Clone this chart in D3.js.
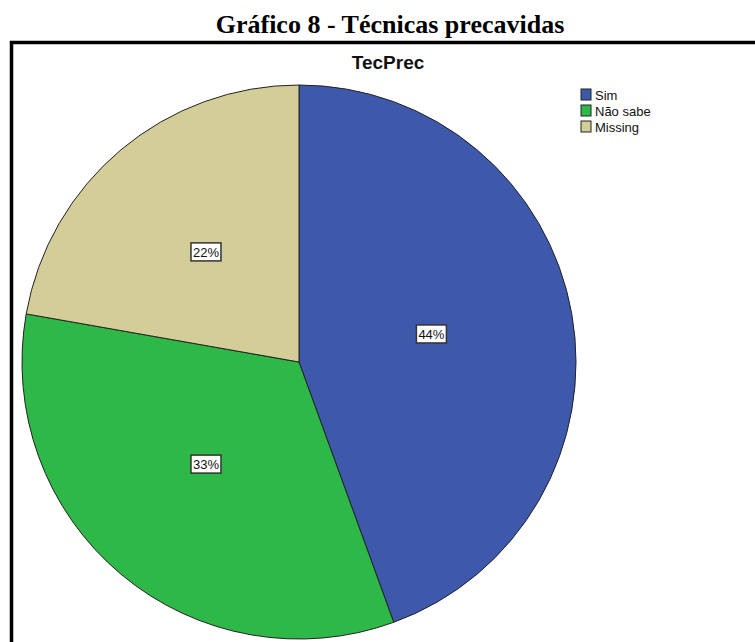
<!DOCTYPE html>
<html>
<head>
<meta charset="utf-8">
<script src="https://cdn.jsdelivr.net/npm/d3@7"></script>
<style>
  body { margin: 0; background: #fff; }
  svg { display: block; }
</style>
</head>
<body>
<svg id="chart" width="755" height="642"></svg>
<script>
(function(){

  var categories = ['Sim', 'Não sabe', 'Missing'];
  var counts = [4, 3, 2];
  var pctLabels = ['44%', '33%', '22%'];
  var colors = ['#3E58AC', '#2EB848', '#D3CE97'];

  var CX = 299, CY = 362, R = 277;

  var svg = d3.select('#chart');

  // titulo do documento
  svg.append('text')
    .attr('x', 390)
    .attr('y', 33)
    .attr('text-anchor', 'middle')
    .style('font-family', '"Liberation Serif", "Times New Roman", serif')
    .style('font-weight', 'bold')
    .style('font-size', '26px')
    .text('Gráfico 8 - Técnicas precavidas');

  // moldura (so topo e esquerda visiveis)
  svg.append('path')
    .attr('d', 'M11.5,642 L11.5,42.5 L755,42.5')
    .attr('fill', 'none')
    .attr('stroke', '#000')
    .attr('stroke-width', 3.5);

  svg.append('text')
    .attr('x', 388)
    .attr('y', 69)
    .attr('text-anchor', 'middle')
    .style('font-family', '"Liberation Sans", Arial, sans-serif')
    .style('font-weight', 'bold')
    .style('font-size', '19px')
    .attr('fill', '#111')
    .text('TecPrec');

  var pie = d3.pie().sort(null).value(function (d) { return d; });
  var arcs = pie(counts);
  var arc = d3.arc().innerRadius(0).outerRadius(R);

  var g = svg.append('g').attr('transform', 'translate(' + CX + ',' + CY + ')');

  g.selectAll('path')
    .data(arcs)
    .join('path')
    .attr('d', arc)
    .attr('fill', function (d, i) { return colors[i]; })
    .attr('stroke', '#222')
    .attr('stroke-width', 1);

  var labels = g.selectAll('g.lbl')
    .data(arcs)
    .join('g')
    .classed('lbl', true)
    .attr('transform', function (d) {
      var c = arc.centroid(d);
      return 'translate(' + (c[0] - 4) + ',' + (c[1] - 4) + ')';
    });

  labels.append('rect')
    .attr('x', -15)
    .attr('y', -9)
    .attr('width', 30)
    .attr('height', 18)
    .attr('fill', '#fff')
    .attr('stroke', '#333')
    .attr('stroke-width', 1.5);

  labels.append('text')
    .attr('text-anchor', 'middle')
    .attr('dy', '0.36em')
    .style('font-family', '"Liberation Sans", Arial, sans-serif')
    .style('font-size', '13px')
    .attr('fill', '#111')
    .text(function (d, i) { return pctLabels[i]; });

  // legenda
  var legend = svg.append('g').attr('transform', 'translate(581, 89)');
  var rows = legend.selectAll('g')
    .data(categories)
    .join('g')
    .attr('transform', function (d, i) { return 'translate(0,' + (i * 16) + ')'; });

  rows.append('rect')
    .attr('width', 10)
    .attr('height', 11)
    .attr('fill', function (d, i) { return colors[i]; })
    .attr('stroke', '#222')
    .attr('stroke-width', 1);

  rows.append('text')
    .attr('x', 14)
    .attr('y', 10.5)
    .style('font-family', '"Liberation Sans", Arial, sans-serif')
    .style('font-size', '13px')
    .attr('fill', '#111')
    .text(function (d) { return d; });

})()
</script>
</body>
</html>
